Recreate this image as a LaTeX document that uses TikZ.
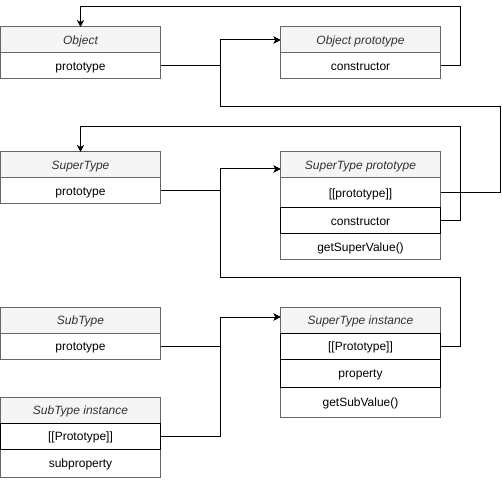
\documentclass[tikz,border=0pt]{standalone}
\usepackage{fontspec}
\setmainfont{Liberation Sans}
\usetikzlibrary{positioning,arrows.meta}
\begin{document}
\begin{tikzpicture}[x=1pt,y=1pt,
  hdr/.style={rectangle,draw=borderColor,fill=hdrFill,text=hdrText,line width=1pt,
    font=\fontsize{12}{14}\selectfont\itshape,minimum width=160pt,minimum height=26pt,
    text height=11pt,text depth=1.5pt,inner sep=0pt,outer sep=0pt},
  field/.style={rectangle,draw=borderColor,fill=white,text=black,line width=1pt,
    font=\fontsize{12}{14}\selectfont,minimum width=160pt,minimum height=26pt,
    text height=11pt,text depth=1.5pt,inner sep=0pt,outer sep=0pt},
  strongfield/.style={field,draw=black},
  link/.style={draw=black,line width=1pt,-{Stealth[length=7pt,width=7pt,inset=2pt]}}]
\definecolor{fillColor}{RGB}{255,255,255}
\definecolor{borderColor}{RGB}{102,102,102}
\definecolor{hdrFill}{RGB}{245,245,245}
\definecolor{hdrText}{RGB}{51,51,51}
\path[use as bounding box,fill=fillColor] (0,0) rectangle (502,479);

% Object and its prototype
\node[hdr,anchor=north west] (obj) at (0.5,452) {Object};
\node[field,below=0pt of obj] (objproto) {prototype};

\node[hdr,anchor=north west] (objp) at (280.5,452) {Object prototype};
\node[field,below=0pt of objp] (opcons) {constructor};

% SuperType and its prototype
\node[hdr,anchor=north west] (st) at (0.5,327) {SuperType};
\node[field,below=0pt of st] (stproto) {prototype};

\node[hdr,anchor=north west] (stp) at (280.5,327) {SuperType prototype};
\node[field,below=0pt of stp,minimum height=30pt] (stpproto) {[[prototype]]};
\node[field,below=56pt of stp] (stpget) {getSuperValue()};
\node[strongfield,below=0pt of stpproto] (stpcons) {constructor};

% SubType, SuperType instance, SubType instance
\node[hdr,anchor=north west] (sub) at (0.5,172) {SubType};
\node[field,below=0pt of sub] (subproto) {prototype};

\node[hdr,anchor=north west] (sti) at (280.5,172) {SuperType instance};
\node[field,below=54pt of sti,minimum height=30pt] (stiget) {getSubValue()};
\node[strongfield,below=0pt of sti] (stiproto) {[[Prototype]]};
\node[strongfield,below=0pt of stiproto,minimum height=28pt] (stiprop) {property};

\node[hdr,anchor=north west] (si) at (0.5,82) {SubType instance};
\node[field,below=26pt of si,minimum height=28pt] (sisub) {subproperty};
\node[strongfield,below=0pt of si] (siproto) {[[Prototype]]};

% connectors
\draw[link] (opcons.east) -- ++(20,0) |- ([yshift=20pt]obj.north) -- (obj.north);
\draw[link] (objproto.east) -- ++(60,0) |- (objp.west);
\draw[link] (stpproto.east) -- ++(60,0) |- ++(-280,86) |- (objp.west);

\draw[link] (stpcons.east) -- ++(20,0) |- ([yshift=25pt]st.north) -- (st.north);
\draw[link] (stproto.east) -- ++(60,0) |- ([yshift=-4pt]stp.west);
\draw[link] (stiproto.east) -- ++(20,0) |- ++(-240,68.5) |- ([yshift=-4pt]stp.west);

\draw[link] (subproto.east) -- ++(60,0) |- ([yshift=3pt]sti.west);
\draw[link] (siproto.east) -- ++(60,0) |- ([yshift=3pt]sti.west);
\end{tikzpicture}
\end{document}
